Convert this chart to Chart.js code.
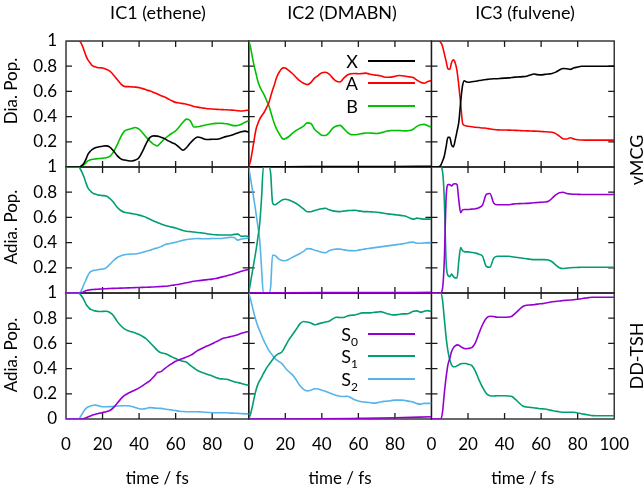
<!DOCTYPE html>
<html>
<head>
<meta charset="utf-8">
<script src="https://cdn.jsdelivr.net/npm/chart.js@4.4.1/dist/chart.umd.min.js"></script>
<style>
  body { margin: 0; background: #fff; }
  #wrap { position: relative; width: 644px; height: 487px; font-family: Lato, sans-serif; font-size: 17px; color: #000; }
  #wrap canvas { position: absolute; left: 0; top: 0; }
  .lbl { position: absolute; white-space: nowrap; line-height: 1; }
  .colTitle { top: 3px; font-size: 18px; transform: translateX(-50%); }
  .rot { transform: translate(-50%, -50%) rotate(-90deg); }
  .side { font-size: 18px; }
  .key { left: 318px; width: 40px; text-align: right; font-size: 18px; }
  .key sub { font-size: 12px; vertical-align: -5px; line-height: 0; }
  .keyLine { position: absolute; left: 368px; width: 47px; height: 2px; }
</style>
</head>
<body>
<div id="wrap">
  <canvas id="chart" width="644" height="487"></canvas>
  <div class="lbl colTitle" style="left:158px">IC1 (ethene)</div>
  <div class="lbl colTitle" style="left:342px">IC2 (DMABN)</div>
  <div class="lbl colTitle" style="left:525px">IC3 (fulvene)</div>
  <div class="lbl rot side" style="left:636px; top:160px">vMCG</div>
  <div class="lbl rot side" style="left:636px; top:356px">DD-TSH</div>
  <div class="lbl rot" style="left:10px; top:91px">Dia. Pop.</div>
  <div class="lbl rot" style="left:10px; top:227px">Adia. Pop.</div>
  <div class="lbl rot" style="left:10px; top:355px">Adia. Pop.</div>

  <div class="lbl key" style="top:52px">X</div>
  <div class="keyLine" style="top:60px; background:#000"></div>
  <div class="lbl key" style="top:74px">A</div>
  <div class="keyLine" style="top:82px; background:#ff0000"></div>
  <div class="lbl key" style="top:97px">B</div>
  <div class="keyLine" style="top:105px; background:#00c000"></div>

  <div class="lbl key" style="top:325px">S<sub>0</sub></div>
  <div class="keyLine" style="top:333px; background:#9400d3"></div>
  <div class="lbl key" style="top:347px">S<sub>1</sub></div>
  <div class="keyLine" style="top:355px; background:#009e73"></div>
  <div class="lbl key" style="top:370px">S<sub>2</sub></div>
  <div class="keyLine" style="top:378px; background:#56b4e9"></div>
</div>
<script>
// time grid (fs): 1 fs steps to 20, then 2 fs steps
const T = [0,1,2,3,4,5,6,7,8,9,10,11,12,13,14,15,16,17,18,19,20,
  22,24,26,28,30,32,34,36,38,40,42,44,46,48,50,52,54,56,58,60,
  62,64,66,68,70,72,74,76,78,80,82,84,86,88,90,92,94,96,98,100];
const tCoarse = [0, 20, 40, 60, 80, 100];

const xTickVals = [20, 40, 60, 80];
const yTickVals = [0.2, 0.4, 0.6, 0.8];

// ---- row 1: diabatic populations (vMCG)
const ic1DiaX = [0,0,0,0,0,0,0,0,0.005,0.015,0.035,0.065,0.1,0.12,0.135,0.145,0.152,0.157,0.16,0.163,0.165,
  0.168,0.158,0.128,0.09,0.065,0.055,0.05,0.048,0.055,0.075,
  0.128,0.19,0.235,0.247,0.245,0.237,0.225,0.207,0.193,0.18,
  0.155,0.133,0.155,0.19,0.22,0.238,0.232,0.22,0.218,0.22,
  0.22,0.225,0.235,0.243,0.25,0.26,0.27,0.28,0.285,0.275];
const ic1DiaA = [1,1,1,1,1,1,1,1,0.99,0.96,0.92,0.88,0.85,0.83,0.81,0.8,0.795,0.79,0.788,0.787,0.785,
  0.775,0.76,0.73,0.695,0.66,0.64,0.638,0.636,0.634,0.63,
  0.622,0.612,0.603,0.592,0.58,0.566,0.555,0.54,0.525,0.513,
  0.508,0.503,0.498,0.49,0.48,0.475,0.47,0.466,0.462,0.46,
  0.458,0.456,0.455,0.454,0.452,0.45,0.447,0.445,0.448,0.452];
const ic1DiaB = [0,0,0,0,0,0,0,0,0.003,0.01,0.02,0.035,0.048,0.055,0.06,0.062,0.064,0.066,0.067,0.068,0.07,
  0.074,0.085,0.12,0.175,0.24,0.285,0.298,0.305,0.314,0.3,
  0.27,0.235,0.205,0.18,0.168,0.195,0.225,0.247,0.268,0.287,
  0.32,0.355,0.38,0.367,0.318,0.32,0.325,0.332,0.338,0.343,
  0.346,0.347,0.346,0.343,0.335,0.328,0.33,0.34,0.355,0.367];

const ic2DiaX = [0, 0.002, 0.003, 0.004, 0.004, 0.005];
const ic2DiaA = [0,0.05,0.13,0.22,0.3,0.345,0.38,0.405,0.425,0.45,0.48,0.51,0.56,0.61,0.65,0.7,0.735,0.76,0.78,0.787,0.785,
  0.765,0.74,0.71,0.683,0.665,0.654,0.67,0.705,0.726,0.748,
  0.752,0.738,0.705,0.68,0.675,0.705,0.73,0.74,0.742,0.74,
  0.742,0.745,0.738,0.732,0.728,0.724,0.715,0.712,0.713,0.72,
  0.726,0.724,0.72,0.715,0.71,0.69,0.672,0.665,0.678,0.686];
const ic2DiaB = [1,0.95,0.87,0.8,0.74,0.68,0.64,0.61,0.585,0.555,0.52,0.487,0.44,0.39,0.345,0.31,0.28,0.255,0.232,0.22,0.225,
  0.242,0.268,0.29,0.307,0.325,0.35,0.345,0.3,0.274,0.252,
  0.25,0.272,0.308,0.325,0.33,0.305,0.275,0.257,0.256,0.26,
  0.265,0.27,0.27,0.268,0.266,0.27,0.278,0.285,0.29,0.29,
  0.29,0.288,0.287,0.29,0.3,0.322,0.335,0.338,0.328,0.316];

const ic3DiaX = [0,0,0,0,0.003,0.012,0.045,0.085,0.16,0.235,0.235,0.175,0.16,0.215,0.285,0.36,0.52,0.646,0.685,0.676,0.673,
  0.676,0.68,0.686,0.69,0.694,0.698,0.7,0.701,0.703,0.705,
  0.707,0.71,0.713,0.715,0.717,0.72,0.73,0.738,0.733,0.731,
  0.735,0.738,0.742,0.753,0.77,0.782,0.78,0.775,0.787,0.793,
  0.8,0.8,0.8,0.8,0.8,0.8,0.8,0.8,0.8,0.8];
const ic3DiaA = [1,1,1,1,1,0.99,0.96,0.9,0.84,0.78,0.775,0.83,0.85,0.825,0.76,0.64,0.5,0.35,0.33,0.326,0.323,
  0.32,0.316,0.313,0.31,0.308,0.302,0.297,0.295,0.294,0.294,
  0.293,0.292,0.291,0.29,0.288,0.287,0.286,0.285,0.284,0.282,
  0.28,0.278,0.276,0.265,0.245,0.225,0.222,0.232,0.222,0.216,
  0.214,0.213,0.213,0.213,0.213,0.213,0.213,0.213,0.213,0.213];

// ---- row 2: adiabatic populations (vMCG)
const ic1AdS0 = [0,0,0,0,0,0,0,0,0,0.005,0.012,0.02,0.023,0.025,0.027,0.028,0.029,0.03,0.031,0.032,0.033,
  0.034,0.036,0.037,0.038,0.039,0.04,0.041,0.042,0.043,0.044,
  0.045,0.046,0.047,0.048,0.05,0.052,0.053,0.056,0.061,0.066,
  0.07,0.076,0.082,0.088,0.093,0.097,0.1,0.104,0.107,0.11,
  0.115,0.122,0.13,0.137,0.145,0.153,0.162,0.172,0.18,0.186];
const ic1AdS1 = [1,1,1,1,1,1,1,1,0.98,0.95,0.915,0.87,0.835,0.815,0.8,0.79,0.785,0.78,0.777,0.775,0.773,
  0.77,0.75,0.72,0.68,0.655,0.64,0.635,0.63,0.625,0.618,
  0.61,0.6,0.585,0.572,0.56,0.548,0.538,0.53,0.523,0.515,
  0.505,0.496,0.49,0.487,0.484,0.48,0.477,0.474,0.468,0.464,
  0.462,0.46,0.46,0.46,0.46,0.465,0.467,0.45,0.452,0.45];
const ic1AdS2 = [0,0,0,0,0,0,0,0,0.01,0.04,0.075,0.106,0.14,0.163,0.173,0.178,0.18,0.183,0.186,0.188,0.19,
  0.2,0.228,0.258,0.282,0.295,0.303,0.307,0.309,0.31,0.315,
  0.323,0.332,0.34,0.35,0.358,0.368,0.383,0.39,0.397,0.403,
  0.41,0.418,0.425,0.428,0.431,0.432,0.431,0.43,0.431,0.432,
  0.432,0.433,0.435,0.438,0.442,0.44,0.42,0.428,0.432,0.437];

const ic2AdS0 = [0, 0.002, 0.003, 0.003, 0.004, 0.005];
const ic2AdS1 = [0,0.085,0.17,0.255,0.34,0.44,0.55,0.75,1,1,1,1,0.95,0.72,0.7,0.705,0.715,0.725,0.735,0.742,0.744,
  0.738,0.725,0.71,0.69,0.668,0.645,0.645,0.655,0.662,0.668,
  0.673,0.66,0.652,0.648,0.646,0.65,0.654,0.655,0.657,0.652,
  0.648,0.646,0.645,0.643,0.641,0.638,0.633,0.628,0.625,0.622,
  0.618,0.614,0.61,0.595,0.586,0.594,0.59,0.586,0.586,0.586];
const ic2AdS2 = [1,0.91,0.82,0.73,0.63,0.53,0.42,0.2,0,0,0,0,0.05,0.3,0.3,0.29,0.275,0.265,0.26,0.256,0.256,
  0.268,0.284,0.298,0.313,0.33,0.352,0.35,0.34,0.332,0.324,
  0.32,0.335,0.345,0.348,0.348,0.342,0.338,0.336,0.335,0.34,
  0.345,0.35,0.354,0.358,0.362,0.366,0.37,0.374,0.378,0.382,
  0.386,0.39,0.395,0.402,0.404,0.395,0.395,0.398,0.4,0.4];

const ic3AdS0 = [0,0,0,0,0,0,0.03,0.25,0.75,0.86,0.86,0.85,0.865,0.867,0.86,0.73,0.637,0.66,0.663,0.663,0.663,
  0.666,0.669,0.677,0.7,0.782,0.79,0.715,0.7,0.7,0.7,
  0.7,0.704,0.708,0.709,0.71,0.711,0.713,0.716,0.718,0.72,
  0.722,0.728,0.752,0.778,0.795,0.8,0.79,0.786,0.784,0.783,
  0.782,0.782,0.782,0.782,0.782,0.782,0.782,0.782,0.782,0.782];
const ic3AdS1 = [1,1,1,1,1,1,0.97,0.75,0.25,0.14,0.13,0.15,0.13,0.12,0.12,0.26,0.36,0.335,0.328,0.326,0.326,
  0.322,0.317,0.308,0.29,0.212,0.204,0.275,0.292,0.292,0.292,
  0.292,0.288,0.284,0.28,0.276,0.272,0.268,0.265,0.265,0.265,
  0.265,0.262,0.248,0.222,0.2,0.194,0.197,0.2,0.202,0.203,
  0.204,0.204,0.204,0.204,0.204,0.204,0.204,0.204,0.204,0.204];

// ---- row 3: adiabatic populations (DD-TSH)
const ic1TsS0 = [0,0,0,0,0,0,0,0,0,0,0.005,0.01,0.016,0.022,0.028,0.033,0.037,0.041,0.045,0.048,0.052,
  0.058,0.068,0.09,0.125,0.16,0.187,0.205,0.218,0.232,0.247,
  0.265,0.285,0.305,0.335,0.368,0.376,0.4,0.422,0.44,0.458,
  0.47,0.481,0.493,0.505,0.522,0.543,0.558,0.572,0.584,0.597,
  0.612,0.626,0.64,0.647,0.654,0.66,0.668,0.68,0.688,0.695];
const ic1TsS1 = [1,1,1,1,1,1,1,1,0.985,0.966,0.94,0.91,0.89,0.875,0.868,0.862,0.858,0.855,0.853,0.853,0.854,
  0.855,0.845,0.82,0.775,0.74,0.715,0.7,0.692,0.682,0.671,
  0.655,0.635,0.605,0.575,0.545,0.525,0.52,0.508,0.493,0.48,
  0.466,0.458,0.45,0.425,0.405,0.385,0.372,0.362,0.352,0.342,
  0.33,0.32,0.318,0.315,0.305,0.296,0.289,0.282,0.274,0.268];
const ic1TsS2 = [0,0,0,0,0,0,0,0,0.02,0.045,0.068,0.084,0.095,0.102,0.106,0.109,0.11,0.108,0.104,0.1,0.097,
  0.097,0.098,0.1,0.103,0.105,0.105,0.105,0.1,0.09,0.082,
  0.079,0.084,0.09,0.088,0.085,0.084,0.08,0.075,0.071,0.067,
  0.062,0.059,0.058,0.058,0.058,0.058,0.056,0.054,0.052,0.05,
  0.05,0.05,0.05,0.049,0.047,0.046,0.045,0.043,0.041,0.04];

const ic2TsS0 = [0, 0, 0.001, 0.005, 0.01, 0.018];
const ic2TsS1 = [0,0.04,0.1,0.17,0.23,0.275,0.305,0.33,0.36,0.385,0.41,0.43,0.45,0.47,0.49,0.505,0.515,0.522,0.53,0.55,0.578,
  0.63,0.67,0.712,0.755,0.774,0.77,0.762,0.748,0.755,0.763,
  0.77,0.776,0.795,0.808,0.805,0.806,0.818,0.823,0.826,0.834,
  0.842,0.842,0.842,0.845,0.848,0.852,0.845,0.835,0.828,0.826,
  0.83,0.834,0.834,0.84,0.855,0.858,0.848,0.855,0.86,0.853];
const ic2TsS2 = [1,0.95,0.89,0.83,0.78,0.735,0.7,0.665,0.63,0.6,0.572,0.545,0.525,0.505,0.485,0.472,0.462,0.452,0.442,0.425,0.405,
  0.375,0.35,0.31,0.265,0.235,0.222,0.228,0.24,0.238,0.229,
  0.22,0.208,0.196,0.187,0.18,0.178,0.181,0.168,0.152,0.143,
  0.137,0.134,0.131,0.126,0.128,0.135,0.14,0.142,0.146,0.15,
  0.15,0.15,0.146,0.14,0.134,0.122,0.118,0.124,0.124,0.124];

const ic3TsS0 = [0,0,0,0,0,0,0.05,0.2,0.33,0.43,0.48,0.535,0.565,0.58,0.588,0.585,0.575,0.565,0.56,0.558,0.56,
  0.566,0.605,0.68,0.75,0.8,0.815,0.813,0.808,0.807,0.807,
  0.809,0.816,0.84,0.868,0.893,0.903,0.905,0.907,0.912,0.915,
  0.918,0.924,0.93,0.933,0.936,0.94,0.942,0.944,0.947,0.95,
  0.955,0.959,0.963,0.966,0.966,0.966,0.966,0.966,0.966,0.966];
const ic3TsS1 = [1,1,1,1,1,1,0.95,0.8,0.65,0.54,0.47,0.43,0.415,0.415,0.422,0.43,0.438,0.44,0.44,0.44,0.435,
  0.425,0.38,0.31,0.25,0.203,0.185,0.183,0.184,0.184,0.184,
  0.183,0.178,0.155,0.127,0.103,0.095,0.092,0.089,0.085,0.081,
  0.079,0.074,0.067,0.062,0.057,0.053,0.053,0.053,0.053,0.048,
  0.042,0.037,0.032,0.027,0.026,0.026,0.026,0.026,0.026,0.026];

const RED = '#ff0000', GREEN = '#00c000', BLACK = '#000000';
const PURPLE = '#9400d3', TEAL = '#009e73', SKY = '#56b4e9';

function line(times, values, color, xID, yID) {
  return {
    data: times.map((t, i) => ({ x: t, y: values[i] })),
    borderColor: color,
    backgroundColor: color,
    borderWidth: 1.6,
    pointRadius: 0,
    cubicInterpolationMode: 'monotone',
    fill: false,
    xAxisID: xID,
    yAxisID: yID
  };
}

function xScale(weight, showLast) {
  return {
    type: 'linear', position: 'bottom', stack: 'cols', stackWeight: 1, weight: weight,
    min: 0, max: 100,
    grid: { display: false, drawTicks: false }, border: { display: false },
    ticks: {
      stepSize: 20, autoSkip: false, maxRotation: 0, padding: 15, color: '#000',
      callback: v => (v === 100 && !showLast) ? '' : String(v)
    },
    title: { display: true, text: 'time / fs', color: '#000', font: { size: 17, lineHeight: 1 }, padding: 0 },
    afterFit: s => { s.height = 68; }
  };
}

function yScale(weight, showZero) {
  return {
    type: 'linear', position: 'left', stack: 'rows', stackWeight: 1, weight: weight,
    min: 0, max: 1,
    grid: { display: false, drawTicks: false }, border: { display: false },
    ticks: {
      stepSize: 0.2, autoSkip: false, padding: 9, color: '#000',
      callback: v => {
        if (Math.abs(v) < 1e-9) return showZero ? '0' : '';
        if (Math.abs(v - 1) < 1e-9) return '1';
        return v.toFixed(1);
      }
    },
    afterFit: s => { s.width = 66; }
  };
}

// frames with inward ticks on all four sides of every panel
const panelFrames = {
  id: 'panelFrames',
  beforeDatasetsDraw(chart) {
    const ctx = chart.ctx;
    ctx.save();
    ctx.strokeStyle = '#1a1a1a';
    ctx.lineWidth = 1.3;
    ['x1', 'x2', 'x3'].forEach(xs => {
      ['y1', 'y2', 'y3'].forEach(ys => {
        const sx = chart.scales[xs], sy = chart.scales[ys];
        ctx.strokeRect(sx.left, sy.top, sx.right - sx.left, sy.bottom - sy.top);
        ctx.beginPath();
        xTickVals.forEach(v => {
          const p = sx.getPixelForValue(v);
          ctx.moveTo(p, sy.bottom); ctx.lineTo(p, sy.bottom - 6);
          ctx.moveTo(p, sy.top); ctx.lineTo(p, sy.top + 6);
        });
        yTickVals.forEach(v => {
          const p = sy.getPixelForValue(v);
          ctx.moveTo(sx.left, p); ctx.lineTo(sx.left + 6, p);
          ctx.moveTo(sx.right, p); ctx.lineTo(sx.right - 6, p);
        });
        ctx.stroke();
      });
    });
    ctx.restore();
  }
};

Chart.defaults.font.family = 'Lato, sans-serif';
Chart.defaults.font.size = 17;
Chart.defaults.color = '#000';

new Chart(document.getElementById('chart'), {
  type: 'line',
  data: {
    datasets: [
      line(T, ic1DiaX, BLACK, 'x1', 'y1'),
      line(T, ic1DiaA, RED, 'x1', 'y1'),
      line(T, ic1DiaB, GREEN, 'x1', 'y1'),
      line(tCoarse, ic2DiaX, BLACK, 'x2', 'y1'),
      line(T, ic2DiaA, RED, 'x2', 'y1'),
      line(T, ic2DiaB, GREEN, 'x2', 'y1'),
      line(T, ic3DiaX, BLACK, 'x3', 'y1'),
      line(T, ic3DiaA, RED, 'x3', 'y1'),

      line(T, ic1AdS0, PURPLE, 'x1', 'y2'),
      line(T, ic1AdS1, TEAL, 'x1', 'y2'),
      line(T, ic1AdS2, SKY, 'x1', 'y2'),
      line(tCoarse, ic2AdS0, PURPLE, 'x2', 'y2'),
      line(T, ic2AdS1, TEAL, 'x2', 'y2'),
      line(T, ic2AdS2, SKY, 'x2', 'y2'),
      line(T, ic3AdS0, PURPLE, 'x3', 'y2'),
      line(T, ic3AdS1, TEAL, 'x3', 'y2'),

      line(T, ic1TsS0, PURPLE, 'x1', 'y3'),
      line(T, ic1TsS1, TEAL, 'x1', 'y3'),
      line(T, ic1TsS2, SKY, 'x1', 'y3'),
      line(tCoarse, ic2TsS0, PURPLE, 'x2', 'y3'),
      line(T, ic2TsS1, TEAL, 'x2', 'y3'),
      line(T, ic2TsS2, SKY, 'x2', 'y3'),
      line(T, ic3TsS0, PURPLE, 'x3', 'y3'),
      line(T, ic3TsS1, TEAL, 'x3', 'y3')
    ]
  },
  options: {
    responsive: false,
    animation: false,
    events: [],
    layout: { padding: { left: 0, top: 41, right: 27, bottom: 0 } },
    plugins: { legend: { display: false }, tooltip: { enabled: false } },
    scales: {
      x1: xScale(1, false),
      x2: xScale(2, false),
      x3: xScale(3, true),
      y1: yScale(3, false),
      y2: yScale(2, false),
      y3: yScale(1, true)
    }
  },
  plugins: [panelFrames]
});
</script>
</body>
</html>
